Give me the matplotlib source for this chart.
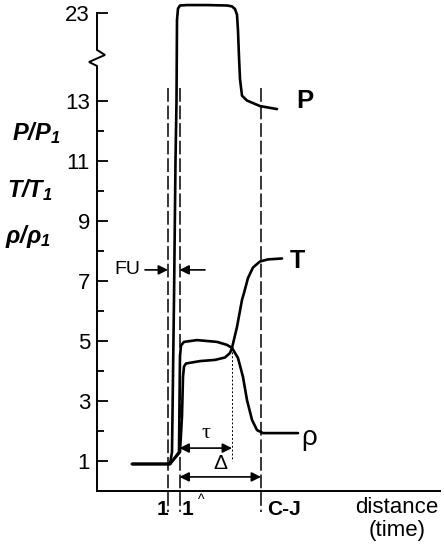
import numpy as np
import matplotlib
matplotlib.use("Agg")
import matplotlib.pyplot as plt

plt.rcParams['font.family'] = ['Liberation Sans', 'DejaVu Sans']
plt.rcParams['mathtext.fontset'] = 'custom'
plt.rcParams['mathtext.it'] = 'Liberation Sans:italic:bold'
plt.rcParams['mathtext.rm'] = 'Liberation Sans:italic:bold'
plt.rcParams['mathtext.bf'] = 'Liberation Sans:italic:bold'

# --- data (distance in arbitrary units, values relative to state 1) ---
p_x = [35, 73, 75, 77, 78.5, 79.5, 80, 81, 83, 90, 110, 130, 135, 138, 140, 141, 142, 143, 145, 150, 163, 180]
p_y = [0.9, 0.9, 1.3, 6.4, 11, 13, 22.2, 23.5, 23.85, 23.9, 23.9, 23.85, 23.75, 23.45, 22.8, 21, 18, 15.5, 13.6, 13.05, 12.83, 12.73]

rho_x = [35, 73, 82, 82.5, 83, 84, 87, 100, 120, 130, 135, 141, 146, 150, 155, 160, 166, 201]
rho_y = [0.9, 0.9, 1.3, 3.0, 4.5, 4.85, 4.97, 5.03, 4.97, 4.87, 4.77, 4.43, 3.8, 3.03, 2.37, 2.03, 1.93, 1.93]

t_x = [35, 73, 83, 85, 86, 87, 89, 103, 118, 128, 133, 135, 140, 145, 147, 151, 156, 163, 171, 185]
t_y = [0.9, 0.9, 1.3, 2.5, 3.8, 4.15, 4.25, 4.33, 4.37, 4.45, 4.6, 4.77, 5.47, 6.37, 6.6, 7.1, 7.45, 7.65, 7.72, 7.75]

x_front = 71       # state 1 (shock front)
x_hat = 82.5       # state 1^ (end of induction zone)
x_tau = 135        # end of induction time
x_cj = 164         # C-J plane

major_ticks = [1, 3, 5, 7, 9, 11, 13, 23]
minor_ticks = [2, 4, 6, 8, 10, 12]

# broken y axis: everything above 13 is compressed
k = 0.2933


def fwd(v):
    v = np.asarray(v, dtype=float)
    return np.where(v <= 13, v, 13 + (v - 13) * k)


def inv(u):
    u = np.asarray(u, dtype=float)
    return np.where(u <= 13, u, 13 + (u - 13) / k)


fig = plt.figure(figsize=(4.44, 5.5), dpi=100)
ax = fig.add_axes([97 / 444, 59 / 550, 343 / 444, 487.7 / 550])
ax.set_yscale('function', functions=(fwd, inv))
ax.set_xlim(0, 343)
ax.set_ylim(0, 24.1)
ax.patch.set_alpha(0)

# curves
for xs, ys in [(p_x, p_y), (rho_x, rho_y), (t_x, t_y)]:
    ax.plot(xs, ys, color='black', lw=1.9, solid_capstyle='round', clip_on=False, zorder=3)

# vertical dashed reference lines
for xv in [x_front, x_hat, x_cj]:
    ax.plot([xv, xv], [14.5, -0.7], color='black', lw=1.1, ls=(0, (9, 2.5)), clip_on=False, zorder=2)
ax.plot([x_tau, x_tau], [4.75, 1.0], color='black', lw=0.7, ls=(0, (2, 2)), zorder=2)

# spines
for s in ['top', 'right', 'left']:
    ax.spines[s].set_visible(False)
ax.spines['bottom'].set_linewidth(1.4)

# hand-drawn left axis with a break
ax.plot([0, 0, 8, -8, 0, 0], [23, 18.8, 18.23, 17.43, 16.98, 0], color='black', lw=1.4,
        clip_on=False, solid_joinstyle='miter', zorder=4)

ax.set_yticks(major_ticks)
ax.set_yticks(minor_ticks, minor=True)
ax.set_yticklabels([str(t) for t in major_ticks])
ax.tick_params(axis='y', which='major', direction='in', length=8, width=1.3, labelsize=16, pad=5)
ax.tick_params(axis='y', which='minor', direction='in', length=5, width=1.3)
ax.set_xticks([])

# curve labels
ax.text(199, 13.03, 'P', fontsize=18.5, fontweight='bold', va='center', ha='left')
ax.text(193, 7.67, 'T', fontsize=18, fontweight='bold', va='center', ha='left')
ax.text(204, 1.75, 'ρ', fontsize=20, va='center', ha='left')

# FU arrows
ax.text(30.5, 7.37, 'FU', fontsize=14, va='center', ha='center')
arr = dict(arrowstyle='-|>', color='black', lw=1.2, mutation_scale=14, shrinkA=0, shrinkB=0)
ax.annotate('', xy=(x_front, 7.37), xytext=(48, 7.37), arrowprops=arr)
ax.annotate('', xy=(x_hat, 7.37), xytext=(108, 7.37), arrowprops=arr)

# tau and Delta
darr = dict(arrowstyle='<|-|>', color='black', lw=1.2, mutation_scale=14, shrinkA=0, shrinkB=0)
ax.annotate('', xy=(x_hat, 1.43), xytext=(x_tau, 1.43), arrowprops=darr)
ax.annotate('', xy=(x_hat, 0.47), xytext=(x_cj, 0.47), arrowprops=darr)
ax.text(109, 1.6, 'τ', fontsize=16, family='Liberation Serif', ha='center', va='bottom')
ax.text(123, 0.6, 'Δ', fontsize=15, ha='center', va='bottom')

# x-axis labels
ax.text(65, -0.63, '1', fontsize=15, fontweight='bold', ha='center', va='center', clip_on=False)
ax.text(90, -0.63, '1', fontsize=15, fontweight='bold', ha='center', va='center', clip_on=False)
ax.text(104, -0.3, '^', fontsize=10, ha='center', va='center', clip_on=False)
ax.text(187, -0.63, 'C-J', fontsize=15, fontweight='bold', ha='center', va='center', clip_on=False)
ax.text(300, -0.55, 'distance', fontsize=16, ha='center', va='center', clip_on=False)
ax.text(300, -1.3, '(time)', fontsize=16, ha='center', va='center', clip_on=False)

# y-axis labels
fig.text(12 / 444, 1 - 133 / 550, r'$P/P_1$', fontsize=17, va='center', ha='left')
fig.text(7 / 444, 1 - 190 / 550, r'$T/T_1$', fontsize=17, va='center', ha='left')
fig.text(5 / 444, 1 - 236 / 550, r'$\rho/\rho_1$', fontsize=17, va='center', ha='left')

fig.savefig('out.png', dpi=100)
